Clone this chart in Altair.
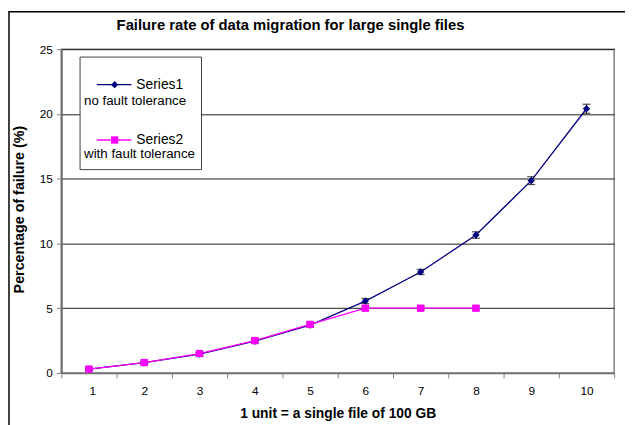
import altair as alt
import pandas as pd

units = [1, 2, 3, 4, 5, 6, 7, 8, 9, 10]
series1 = [0.3, 0.8, 1.45, 2.45, 3.7, 5.55, 7.8, 10.65, 14.85, 20.4]
err1 = [0.1, 0.1, 0.15, 0.15, 0.15, 0.2, 0.2, 0.25, 0.3, 0.35]
units2 = [1, 2, 3, 4, 5, 6, 7, 8]
series2 = [0.3, 0.8, 1.5, 2.5, 3.75, 5.0, 5.0, 5.0]
err2 = [0.1, 0.1, 0.1, 0.1, 0.15, 0.15, 0.15, 0.15]
y_ticks = [0, 5, 10, 15, 20, 25]

rows = []
for u, v, e in zip(units, series1, err1):
    rows.append({"x": u, "v": v, "lo": v - e, "hi": v + e, "s": "Series1"})
for u, v, e in zip(units2, series2, err2):
    rows.append({"x": u, "v": v, "lo": v - e, "hi": v + e, "s": "Series2"})
df = pd.DataFrame(rows)

FONT = "Liberation Sans"
NAVY = "#000080"
MAG = "#FF00FF"

xs = alt.Scale(domain=[0.5, 10.5], nice=False, zero=False)
ys = alt.Scale(domain=[0, 25], nice=False)
col = alt.Scale(domain=["Series1", "Series2"], range=[NAVY, MAG])
shp = alt.Scale(domain=["Series1", "Series2"], range=["diamond", "square"])

base = alt.Chart(df)

lines = base.mark_line(strokeWidth=1.3).encode(
    x=alt.X("x:Q", scale=xs, axis=alt.Axis(
        values=[u - 0.5 for u in units] + [10.5],
        labelExpr="datum.value + 0.5 <= 10 ? format(datum.value + 0.5, 'd') : ''",
        labelOffset=28, grid=False, tickSize=5, tickColor="#808080",
        domainColor="#707070", domainWidth=1.5, labelFontSize=12, labelFont=FONT,
        labelColor="#000", labelPadding=8,
        title="1 unit = a single file of 100 GB", titleFont=FONT, titleFontSize=14,
        titleFontWeight="bold", titleColor="#000", titleY=45, titleBaseline="alphabetic")),
    y=alt.Y("v:Q", scale=ys, axis=alt.Axis(
        values=y_ticks, grid=True, gridColor="#1a1a1a", gridWidth=1, tickSize=5,
        tickColor="#808080", domainColor="#707070", domainWidth=2,
        labelFontSize=12, labelFont=FONT, labelColor="#000", labelPadding=4,
        title="Percentage of failure (%)", titleFont=FONT, titleFontSize=14.5,
        titleFontWeight="bold", titleColor="#000", titleX=-38, titleY=162,
        titleAngle=-90, titleBaseline="alphabetic", titleAlign="center")),
    color=alt.Color("s:N", scale=col, legend=None),
    detail="s:N",
)

ebars = base.mark_rule(color="#000", strokeWidth=1).encode(
    x="x:Q", y="lo:Q", y2="hi:Q")
caps_hi = base.mark_tick(color="#000", thickness=1.2, size=8, orient="horizontal").encode(
    x="x:Q", y="hi:Q")
caps_lo = base.mark_tick(color="#000", thickness=1.2, size=8, orient="horizontal").encode(
    x="x:Q", y="lo:Q")

points = base.mark_point(filled=True, size=55, opacity=1).encode(
    x="x:Q", y="v:Q",
    color=alt.Color("s:N", scale=col, legend=None),
    shape=alt.Shape("s:N", scale=shp, legend=None),
)

# decorations: outer border, title, legend box
deco = pd.DataFrame({"k": [0]})
border = alt.Chart(deco).mark_rect(fill=None, stroke="#000", strokeWidth=1.5, clip=False).encode(
    x=alt.value(-53), x2=alt.value(700), y=alt.value(-38), y2=alt.value(500))
title = alt.Chart(deco).mark_text(
    text="Failure rate of data migration for large single files", font=FONT,
    fontSize=15, fontWeight="bold", color="#000", align="left", baseline="alphabetic").encode(
    x=alt.value(56), y=alt.value(-19))
lbox = alt.Chart(deco).mark_rect(fill="#fff", stroke="#404040", strokeWidth=1).encode(
    x=alt.value(19), x2=alt.value(142), y=alt.value(8), y2=alt.value(122))
l1 = alt.Chart(deco).mark_rule(color=NAVY, strokeWidth=1.3).encode(
    x=alt.value(36), x2=alt.value(71), y=alt.value(36))
l2 = alt.Chart(deco).mark_rule(color=MAG, strokeWidth=1.3).encode(
    x=alt.value(36), x2=alt.value(71), y=alt.value(92))
m1 = alt.Chart(deco).mark_point(shape="diamond", filled=True, color=NAVY, size=55, opacity=1).encode(
    x=alt.value(54), y=alt.value(36))
m2 = alt.Chart(deco).mark_point(shape="square", filled=True, color=MAG, size=55, opacity=1).encode(
    x=alt.value(54), y=alt.value(92))
t1 = alt.Chart(deco).mark_text(text="Series1", font=FONT, fontSize=14, align="left",
                               baseline="middle", color="#000").encode(x=alt.value(76), y=alt.value(36))
t1b = alt.Chart(deco).mark_text(text="no fault tolerance", font=FONT, fontSize=13.5, align="left",
                                baseline="middle", color="#000").encode(x=alt.value(23), y=alt.value(53))
t2 = alt.Chart(deco).mark_text(text="Series2", font=FONT, fontSize=14, align="left",
                               baseline="middle", color="#000").encode(x=alt.value(76), y=alt.value(92))
t2b = alt.Chart(deco).mark_text(text="with fault tolerance", font=FONT, fontSize=13.5, align="left",
                                baseline="middle", color="#000").encode(x=alt.value(23), y=alt.value(106.5))

chart = alt.layer(
    border, lines, ebars, caps_hi, caps_lo, points, title,
    lbox, l1, l2, m1, m2, t1, t1b, t2, t2b
).properties(
    width=560, height=328,
    autosize=alt.AutoSizeParams(type="none"),
    padding={"left": 54, "top": 39, "right": 11, "bottom": 50},
    background="#fff",
).configure_view(stroke="#808080", strokeWidth=1.5)

chart.save("out.html", embed_options={"renderer": "svg", "actions": False})
